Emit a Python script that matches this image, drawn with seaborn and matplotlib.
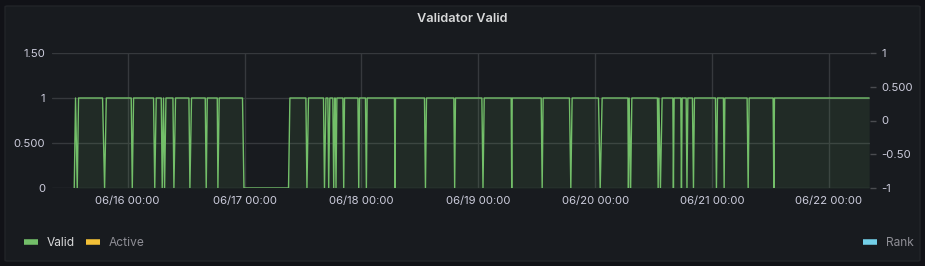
import matplotlib
matplotlib.use("Agg")
import matplotlib.pyplot as plt
import matplotlib.dates as mdates
from matplotlib.patches import FancyBboxPatch
from matplotlib.lines import Line2D
import seaborn as sns
import pandas as pd

# ---------------- data ----------------
times = [
    "06-15 13:02", "06-15 13:18", "06-15 13:39", "06-15 13:55",
    "06-15 18:51", "06-15 19:16", "06-15 19:37",
    "06-16 00:44", "06-16 00:57", "06-16 01:13",
    "06-16 05:19", "06-16 05:34", "06-16 05:52",
    "06-16 06:54", "06-16 07:06", "06-16 07:22", "06-16 07:35", "06-16 07:52",
    "06-16 09:18", "06-16 09:30", "06-16 09:50",
    "06-16 12:35", "06-16 12:47", "06-16 13:07",
    "06-16 15:56", "06-16 16:08", "06-16 16:21",
    "06-16 18:24", "06-16 18:32", "06-16 18:48",
    "06-16 23:35", "06-16 23:53", "06-17 09:02", "06-17 09:19",
    "06-17 12:36", "06-17 12:49", "06-17 13:08",
    "06-17 16:13", "06-17 16:25", "06-17 16:43",
    "06-17 17:07", "06-17 17:17", "06-17 17:31",
    "06-17 18:08", "06-17 18:19", "06-17 18:31",
    "06-17 18:37", "06-17 18:47", "06-17 18:58",
    "06-17 20:12", "06-17 20:22", "06-17 20:32",
    "06-17 23:17", "06-17 23:27", "06-17 23:37",
    "06-18 00:50", "06-18 01:01", "06-18 01:11",
    "06-18 06:47", "06-18 06:54", "06-18 07:00",
    "06-18 12:57", "06-18 13:09", "06-18 13:22",
    "06-18 18:59", "06-18 19:09", "06-18 19:19",
    "06-19 00:44", "06-19 00:58", "06-19 01:13",
    "06-19 06:45", "06-19 06:52", "06-19 06:58",
    "06-19 12:55", "06-19 13:07", "06-19 13:19",
    "06-19 18:43", "06-19 19:00", "06-19 19:16",
    "06-20 00:41", "06-20 01:02", "06-20 01:26",
    "06-20 06:43", "06-20 06:50", "06-20 06:59", "06-20 07:17", "06-20 07:32",
    "06-20 12:47", "06-20 12:56", "06-20 13:05", "06-20 13:24", "06-20 13:45",
    "06-20 15:57", "06-20 16:04", "06-20 16:13",
    "06-20 17:35", "06-20 17:43", "06-20 17:52",
    "06-20 18:41", "06-20 18:51", "06-20 19:02",
    "06-20 19:58", "06-20 20:11", "06-20 20:23",
    "06-21 00:42", "06-21 00:54", "06-21 01:07",
    "06-21 02:20", "06-21 02:29", "06-21 02:38",
    "06-21 07:12", "06-21 07:25", "06-21 07:37",
    "06-21 12:32", "06-21 12:41", "06-21 12:49",
    "06-22 08:15",
]
valid = [
    0, 1, 0, 1,
    1, 0, 1,
    1, 0, 1,
    1, 0, 1,
    1, 0, 1, 0, 1,
    1, 0, 1,
    1, 0, 1,
    1, 0, 1,
    1, 0, 1,
    1, 0, 0, 1,
    1, 0, 1,
    1, 0, 1,
    1, 0, 1,
    1, 0, 1,
    1, 0, 1,
    1, 0, 1,
    1, 0, 1,
    1, 0, 1,
    1, 0, 1,
    1, 0, 1,
    1, 0, 1,
    1, 0, 1,
    1, 0, 1,
    1, 0, 1,
    1, 0, 1,
    1, 0, 1,
    1, 0, 1, 0, 1,
    1, 0, 1, 0, 1,
    1, 0, 1,
    1, 0, 1,
    1, 0, 1,
    1, 0, 1,
    1, 0, 1,
    1, 0, 1,
    1, 0, 1,
    1, 0, 1,
    1,
]
series_names = ["Valid", "Active", "Rank"]
series_colors = ["#73bf69", "#f2c037", "#73d0e8"]
title = "Validator Valid"
left_ticks = [0, 0.5, 1, 1.5]
left_labels = ["0", "0.500", "1", "1.50"]
right_ticks = [-1, -0.5, 0, 0.5, 1]
right_labels = ["-1", "-0.50", "0", "0.500", "1"]
x_start, x_end = "2023-06-15 08:28", "2023-06-22 08:26"

df = pd.DataFrame({"time": pd.to_datetime(["2023-" + t for t in times]),
                   "value": valid})

# ---------------- style ----------------
W, H = 925, 266
BG_OUT = "#111217"
PANEL = "#181b1f"
GRID = "#36393d"
TXT = "#ccccdc"
TXT_DIM = "#8e8e95"
FS = 8.2

sns.set_theme(style="dark")
plt.rcParams["font.family"] = ["Inter", "DejaVu Sans"]

fig = plt.figure(figsize=(W / 100, H / 100), dpi=100, facecolor=BG_OUT)
panel = FancyBboxPatch((5 / W, 5 / H), 915 / W, 255 / H,
                       boxstyle="round,pad=0,rounding_size=0.003",
                       transform=fig.transFigure, facecolor=PANEL,
                       edgecolor="#222428", linewidth=1, zorder=-5)
fig.patches.append(panel)

L, R, T, B = 52, 870, 53, 188
ax = fig.add_axes([L / W, 1 - B / H, (R - L) / W, (B - T) / H])
ax.set_facecolor("none")

sns.lineplot(data=df, x="time", y="value", ax=ax, color=series_colors[0],
             linewidth=1.0, estimator=None, legend=False, zorder=3)
ax.fill_between(df["time"], df["value"], 0, color=series_colors[0],
                alpha=0.1, linewidth=0, zorder=2)

ax.set_xlim(pd.Timestamp(x_start), pd.Timestamp(x_end))
ax.set_ylim(0, 1.5)
ax.set_yticks(left_ticks)
ax.set_yticklabels(left_labels)
ax.xaxis.set_major_locator(mdates.DayLocator())
ax.xaxis.set_major_formatter(mdates.DateFormatter("%m/%d %H:%M"))
ax.grid(True, color=GRID, linewidth=1)
ax.tick_params(axis="both", length=0, colors=TXT, labelsize=FS)
ax.tick_params(axis="x", pad=5.5)
ax.tick_params(axis="y", pad=5)
ax.set_xlabel("")
ax.set_ylabel("")
for s in ax.spines.values():
    s.set_visible(False)

ax2 = ax.twinx()
ax2.set_ylim(-1, 1)
ax2.set_yticks(right_ticks)
ax2.set_yticklabels(right_labels)
ax2.tick_params(axis="y", length=4.5, width=1, color="#4a4c50",
                labelcolor=TXT, labelsize=FS, pad=3.5)
ax2.grid(False)
for s in ax2.spines.values():
    s.set_visible(False)

fig.text(0.5, 1 - 19 / H, title, ha="center", va="center", color="#d8d9da",
         fontsize=9.2, fontweight="semibold")

def handle(c):
    return Line2D([0], [0], color=c, linewidth=4, solid_capstyle="butt")

leg1 = fig.legend([handle(series_colors[0]), handle(series_colors[1])],
                  series_names[:2], loc="center left",
                  bbox_to_anchor=(23.5 / W, 1 - 243 / H), ncol=2, frameon=False,
                  fontsize=8.6, handlelength=1.2, handletextpad=0.75,
                  columnspacing=0.9, borderpad=0, borderaxespad=0)
leg1.get_texts()[0].set_color("#d8d9da")
leg1.get_texts()[1].set_color(TXT_DIM)
leg2 = fig.legend([handle(series_colors[2])], series_names[2:],
                  loc="center left", bbox_to_anchor=(863 / W, 1 - 243 / H),
                  frameon=False, fontsize=8.6, handlelength=1.2,
                  handletextpad=0.75, borderpad=0, borderaxespad=0)
leg2.get_texts()[0].set_color(TXT_DIM)

fig.savefig("out.png", dpi=100, facecolor=BG_OUT)
